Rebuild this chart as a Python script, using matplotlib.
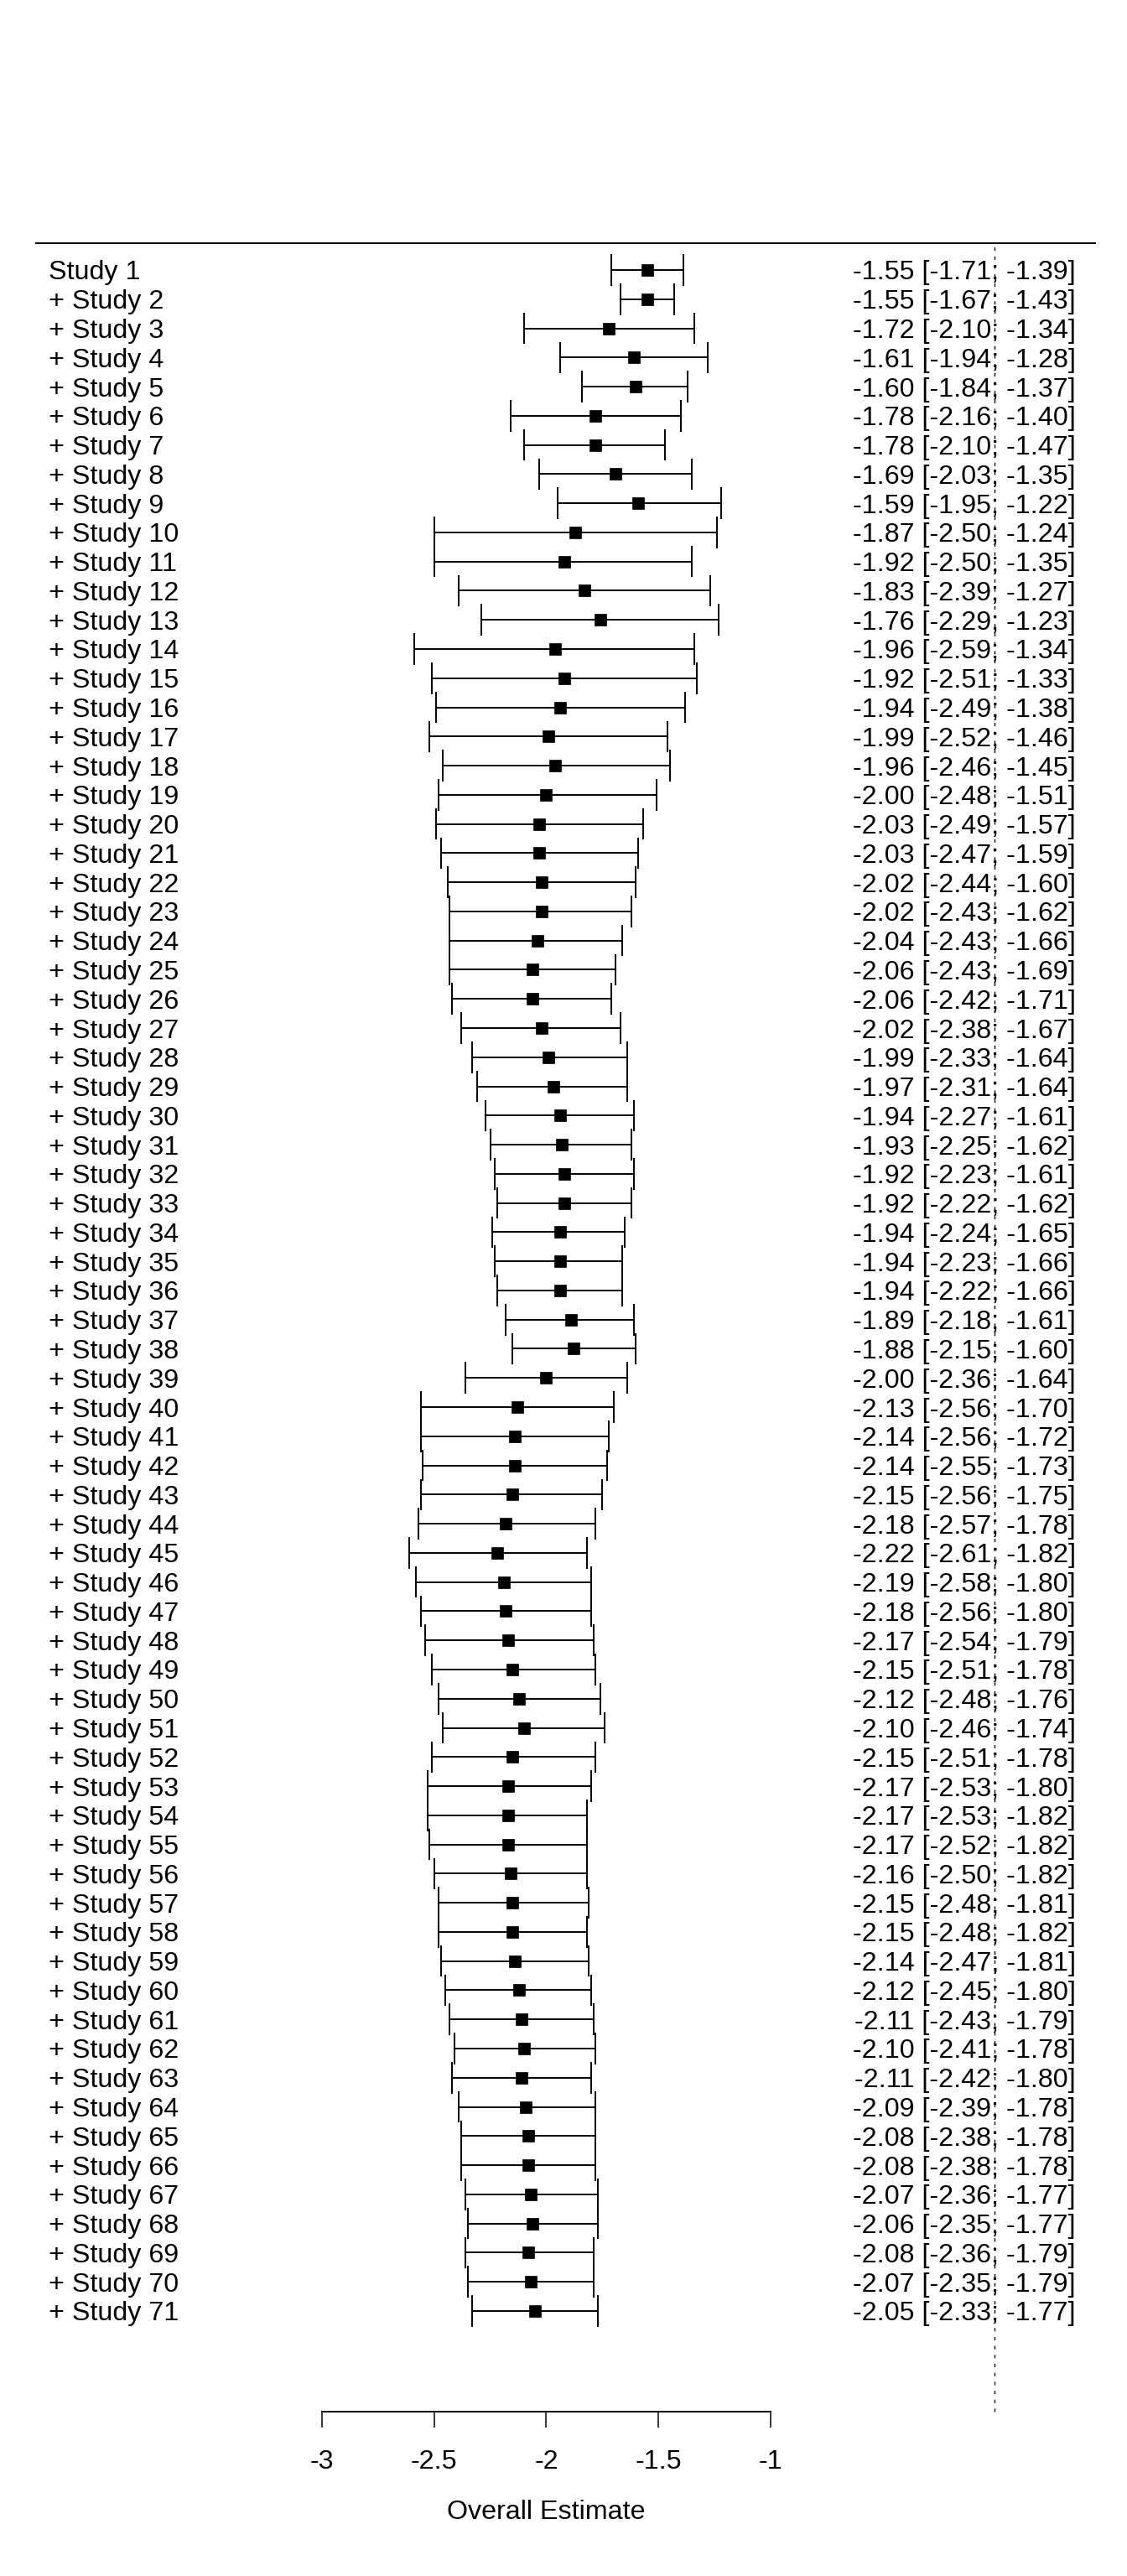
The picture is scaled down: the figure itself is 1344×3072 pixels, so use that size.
import matplotlib
matplotlib.use("Agg")
import matplotlib.pyplot as plt
import numpy as np

plt.rcParams['font.family'] = ['Liberation Sans', 'DejaVu Sans']
plt.rcParams['axes.unicode_minus'] = False
plt.rcParams['lines.scale_dashes'] = False

labels = ["Study 1"] + [f"+ Study {i}" for i in range(2, 72)]

est = [-1.55, -1.55, -1.72, -1.61, -1.60, -1.78, -1.78, -1.69, -1.59, -1.87,
       -1.92, -1.83, -1.76, -1.96, -1.92, -1.94, -1.99, -1.96, -2.00, -2.03,
       -2.03, -2.02, -2.02, -2.04, -2.06, -2.06, -2.02, -1.99, -1.97, -1.94,
       -1.93, -1.92, -1.92, -1.94, -1.94, -1.94, -1.89, -1.88, -2.00, -2.13,
       -2.14, -2.14, -2.15, -2.18, -2.22, -2.19, -2.18, -2.17, -2.15, -2.12,
       -2.10, -2.15, -2.17, -2.17, -2.17, -2.16, -2.15, -2.15, -2.14, -2.12,
       -2.11, -2.10, -2.11, -2.09, -2.08, -2.08, -2.07, -2.06, -2.08, -2.07,
       -2.05]
lo = [-1.71, -1.67, -2.10, -1.94, -1.84, -2.16, -2.10, -2.03, -1.95, -2.50,
      -2.50, -2.39, -2.29, -2.59, -2.51, -2.49, -2.52, -2.46, -2.48, -2.49,
      -2.47, -2.44, -2.43, -2.43, -2.43, -2.42, -2.38, -2.33, -2.31, -2.27,
      -2.25, -2.23, -2.22, -2.24, -2.23, -2.22, -2.18, -2.15, -2.36, -2.56,
      -2.56, -2.55, -2.56, -2.57, -2.61, -2.58, -2.56, -2.54, -2.51, -2.48,
      -2.46, -2.51, -2.53, -2.53, -2.52, -2.50, -2.48, -2.48, -2.47, -2.45,
      -2.43, -2.41, -2.42, -2.39, -2.38, -2.38, -2.36, -2.35, -2.36, -2.35,
      -2.33]
hi = [-1.39, -1.43, -1.34, -1.28, -1.37, -1.40, -1.47, -1.35, -1.22, -1.24,
      -1.35, -1.27, -1.23, -1.34, -1.33, -1.38, -1.46, -1.45, -1.51, -1.57,
      -1.59, -1.60, -1.62, -1.66, -1.69, -1.71, -1.67, -1.64, -1.64, -1.61,
      -1.62, -1.61, -1.62, -1.65, -1.66, -1.66, -1.61, -1.60, -1.64, -1.70,
      -1.72, -1.73, -1.75, -1.78, -1.82, -1.80, -1.80, -1.79, -1.78, -1.76,
      -1.74, -1.78, -1.80, -1.82, -1.82, -1.82, -1.81, -1.82, -1.81, -1.80,
      -1.79, -1.78, -1.80, -1.78, -1.78, -1.78, -1.77, -1.77, -1.79, -1.79,
      -1.77]
xticks = [-3, -2.5, -2, -1.5, -1]
xtick_labels = ["-3", "-2.5", "-2", "-1.5", "-1"]
null_value = 0
xlabel = "Overall Estimate"

n = len(labels)
rows = np.arange(n, 0, -1)
est_a, lo_a, hi_a = np.array(est), np.array(lo), np.array(hi)

fig = plt.figure(figsize=(13.44, 30.72), dpi=100)
ax = fig.add_axes([0, 0, 1, 1])
ax.set_xlim(-4.4355, 0.5888)
ax.set_ylim(-8.09, 80.26)

top_y = n + 0.92
axis_y = -2.45
fs = 23.2

# header line and null line
ax.hlines(top_y, -4.279, 0.4505, color="black", lw=1.4)
ax.vlines(null_value, axis_y, top_y, color="black", lw=1.0,
          linestyle=(0, (2.9, 4.8)))

# CIs
ax.hlines(rows, lo_a, hi_a, color="black", lw=1.4)
cap = 0.54
ax.vlines(lo_a, rows - cap, rows + cap, color="black", lw=1.4)
ax.vlines(hi_a, rows - cap, rows + cap, color="black", lw=1.4)
ax.plot(est_a, rows, "s", ms=10, mew=0.5, color="black", zorder=3)

for r, lab, e, l, h in zip(rows, labels, est, lo, hi):
    ax.text(-4.2187, r, lab, ha="left", va="center_baseline", fontsize=fs)
    ax.text(0.3607, r, f"{e:.2f} [{l:.2f}; {h:.2f}]", ha="right",
            va="center_baseline", fontsize=fs)

# axis
for s in ["left", "right", "top"]:
    ax.spines[s].set_visible(False)
ax.spines["bottom"].set_position(("data", axis_y))
ax.spines["bottom"].set_bounds(xticks[0], xticks[-1])
ax.spines["bottom"].set_linewidth(1.4)
ax.set_xticks(xticks)
ax.set_xticklabels(xtick_labels)
ax.tick_params(axis="x", direction="out", length=13.7, width=1.1,
               labelsize=fs, pad=19)
ax.set_yticks([])
ax.text(np.mean([xticks[0], xticks[-1]]), -5.79, xlabel, ha="center",
        va="center_baseline", fontsize=fs)

fig.savefig("out.png", dpi=100)
